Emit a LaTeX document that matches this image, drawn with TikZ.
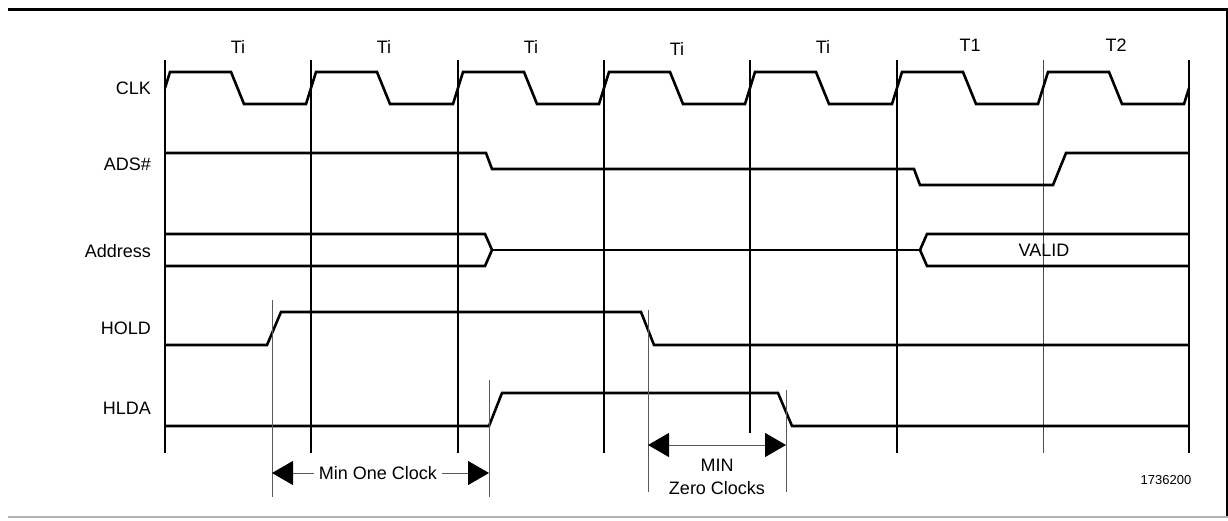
\documentclass[tikz,border=0pt]{standalone}
\usepackage{fontspec}
\setmainfont{Liberation Sans}
\usetikzlibrary{positioning,arrows.meta}

\begin{document}
\begin{tikzpicture}[
  x=1pt, y=-1pt,
  font=\fontsize{18}{23}\selectfont,
  sig/.style={anchor=east, inner sep=0pt},
  cyc/.style={inner sep=0pt},
  wave/.style={line width=2.6pt},
  clkgrid/.style={line width=#1},
  guide/.style={line width=1pt, gray!70!black},
  dimarr/.style={line width=1pt, gray!70!black},
  dimL/.style={dimarr, {Triangle[length=21pt,width=24pt,color=black]}-},
  dimR/.style={dimarr, -{Triangle[length=21pt,width=24pt,color=black]}},
  dimLR/.style={dimarr, {Triangle[length=21pt,width=24pt,color=black]}-{Triangle[length=21pt,width=24pt,color=black]}},
]
\useasboundingbox (0,0) rectangle (1228,520);
\draw[line width=2.5pt] (8,9.5) -- (1228,9.5);
\draw[line width=2pt] (1227,9.5) -- (1227,517);
\draw[line width=2pt, gray!60] (8,517) -- (1228,517);

\draw[clkgrid=2pt] (165,60) -- (165,453);
\draw[clkgrid=2pt] (311,60) -- (311,453);
\draw[clkgrid=1.6pt] (458,60) -- (458,453);
\draw[clkgrid=1.6pt] (604,60) -- (604,453);
\draw[clkgrid=1.4pt] (750,60) -- (750,433);
\draw[clkgrid=1.4pt] (897,60) -- (897,453);
\draw[clkgrid=1pt, gray!60!black] (1043,60) -- (1043,453);
\draw[clkgrid=2pt] (1189,60) -- (1189,453);

\node[cyc] (c1) at (238,47) {Ti};
\node[cyc] (c2) at (384,47) {Ti};
\node[cyc] (c3) at (531,47) {Ti};
\node[cyc] (c4) at (677,49) {Ti};
\node[cyc] (c5) at (823,47) {Ti};
\node[cyc] (c6) at (970,45) {T1};
\node[cyc] (c7) at (1116,45) {T2};

\node[sig] (clk) at (151,88) {CLK};
\node[sig] (ads) at (151,164) {ADS\#};
\node[sig] (addr) at (151,251) {Address};
\node[sig] (hold) at (151,328) {HOLD};
\node[sig] (hlda) at (151,408) {HLDA};

\draw[wave] (165,88) -- (170,72) -- (231,72) -- (244,104) -- (306,104) -- (316,72) -- (377,72) -- (390,104)
  -- (453,104) -- (463,72) -- (524,72) -- (537,104) -- (599,104) -- (609,72) -- (670,72) -- (683,104)
  -- (745,104) -- (755,72) -- (816,72) -- (829,104) -- (892,104) -- (902,72) -- (963,72) -- (976,104)
  -- (1038,104) -- (1048,72) -- (1109,72) -- (1122,104) -- (1184,104) -- (1189,88);
\draw[wave] (165,153) -- (486,153) -- (492,169) -- (914,169) -- (920,185) -- (1053,185) -- (1066,153) -- (1189,153);
\draw[wave] (165,234) -- (485,234) -- (492,250) -- (485,266) -- (165,266);
\draw[wave] (492,250) -- (920,250);
\draw[wave] (1189,234) -- (927,234) -- (920,250) -- (927,266) -- (1189,266);
\node (valid) at (1044,250) {VALID};
\draw[wave] (165,345) -- (267,345) -- (281,312) -- (641,312) -- (654,345) -- (1189,345);
\draw[wave] (165,426) -- (489,426) -- (502,393) -- (778,393) -- (792,426) -- (1189,426);

\draw[guide] (272,300) -- (272,497);
\draw[guide] (489,380) -- (489,497);
\draw[guide] (648,310) -- (648,492);
\draw[guide] (786,390) -- (786,492);

\coordinate (hr) at (272,473);
\coordinate (ar) at (489,473);
\node[inner sep=5pt] (moc) at (378,473) {Min One Clock};
\draw[dimL] (hr) -- (moc); \draw[dimR] (moc) -- (ar);
\coordinate (hf) at (648,445);
\coordinate (af) at (786,445);
\draw[dimLR] (hf) -- (af);
\node[align=center, inner sep=0pt] (mzc) at (717,477) {MIN\\Zero Clocks};
\node[font=\fontsize{13}{15}\selectfont] (figid) at (1166,480) {1736200};
\end{tikzpicture}
\end{document}
